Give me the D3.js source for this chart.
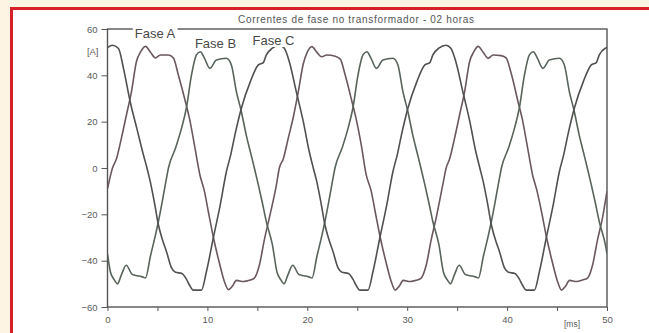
<!DOCTYPE html>
<html>
<head>
<meta charset="utf-8">
<script src="https://cdn.jsdelivr.net/npm/d3@7"></script>
<style>
  html, body { margin: 0; padding: 0; background: #fdf4e4; }
  svg { display: block; font-family: "Liberation Sans", Arial, sans-serif; }
</style>
</head>
<body>
<div id="chart"></div>
<script>
const title = "Correntes de fase no transformador - 02 horas";
const yTicks = [-60, -40, -20, 0, 20, 40, 60];
const xTicks = [0, 10, 20, 30, 40, 50];
const xMinorTicks = [5, 15, 25, 35, 45];
const seriesNames = ["Fase A", "Fase B", "Fase C"];

// [time ms, current A]
const faseA = [
  [0, -9], [0.5, 0], [0.9, 4], [1.4, 13], [1.9, 23], [2.4, 33], [2.9, 46], [3.3, 50], [3.8, 52.5], [4.3, 50],
  [4.8, 47.5], [5.3, 48.8], [6.1, 48.8], [6.6, 47.5], [7.1, 40], [7.8, 28.6], [8.2, 21.5], [8.7, 10], [9.25, -3],
  [9.7, -10], [10.1, -19], [10.6, -30], [11.2, -41], [11.7, -49], [12.1, -52.5], [12.5, -51], [12.9, -48.5],
  [13.6, -49], [14.2, -48.5], [14.7, -47.5], [15.2, -42], [15.7, -31], [16.2, -21.5], [16.9, -7.5],
  [17.2, 0], [17.6, 4], [18.1, 13], [18.6, 22], [19.1, 33], [19.6, 45], [20.0, 50], [20.45, 52.4], [20.95, 50],
  [21.45, 48], [21.95, 48.8], [22.8, 48.2], [23.3, 47], [23.8, 40], [24.45, 29], [24.9, 21], [25.4, 10], [25.9, -3],
  [26.4, -10], [26.8, -19], [27.3, -30], [27.9, -41], [28.4, -49], [28.8, -52.7], [29.2, -51], [29.6, -48.5],
  [30.3, -49], [30.9, -48.5], [31.4, -47.5], [31.9, -42], [32.4, -31], [32.9, -21.5], [33.55, -7.5],
  [33.9, 0], [34.25, 4], [34.75, 13], [35.25, 23], [35.75, 33], [36.25, 46], [36.65, 50], [37.1, 52.5], [37.6, 50],
  [38.1, 47.4], [38.6, 48.8], [39.4, 48.5], [39.9, 47.5], [40.4, 41], [41.1, 28.5], [41.5, 21.5], [42.0, 10], [42.55, -3],
  [43.0, -10], [43.45, -19], [43.95, -30], [44.55, -41], [45.05, -49], [45.45, -52.7], [45.85, -51], [46.25, -48.5],
  [46.95, -49], [47.55, -48.3], [48.05, -47.5], [48.55, -42], [49.05, -31], [49.55, -21.5], [50, -10]
];

const faseB = [
  [0, -37], [0.3, -45], [0.7, -48.4], [1.0, -50], [1.4, -46], [1.87, -42], [2.5, -46], [3.0, -46.5], [3.5, -47],
  [3.8, -47.5], [4.3, -38], [4.8, -29], [5.1, -23], [5.5, -14], [5.9, -4.5], [6.1, 0],
  [6.8, 8.5], [7.4, 17], [7.9, 26], [8.4, 40], [8.9, 48.8], [9.3, 50.2], [9.7, 47.4], [10.25, 43], [10.9, 46.6],
  [11.9, 47.4], [12.4, 44.5], [12.9, 33], [13.4, 24.3], [13.9, 14], [14.3, 7], [14.7, 0], [15.1, -7.3], [15.5, -15],
  [15.9, -23.2], [16.5, -33], [16.97, -45], [17.37, -48.4], [17.67, -50], [18.07, -46], [18.54, -42], [19.17, -46],
  [19.67, -46.5], [20.17, -47], [20.47, -47.5], [20.97, -38], [21.47, -29], [21.77, -23], [22.17, -14], [22.57, -4.5],
  [22.77, 0], [23.47, 8.5], [24.07, 17], [24.57, 26], [25.07, 40], [25.57, 48.8], [25.97, 50.2], [26.37, 47.4],
  [26.92, 43], [27.57, 46.6], [28.57, 47.4], [29.07, 44.5], [29.57, 33], [30.07, 24.3], [30.57, 14], [30.97, 7],
  [31.37, 0], [31.77, -7.3], [32.17, -15], [32.57, -23.2], [33.17, -33], [33.63, -45], [34.03, -48.4], [34.33, -50],
  [34.73, -46], [35.2, -42], [35.83, -46], [36.33, -46.5], [36.83, -47], [37.13, -47.5], [37.63, -38], [38.13, -29],
  [38.43, -23], [38.83, -14], [39.23, -4.5], [39.43, 0], [40.13, 8.5], [40.73, 17], [41.23, 26], [41.73, 40],
  [42.23, 48.8], [42.63, 50.2], [43.03, 47.4], [43.58, 43], [44.23, 46.6], [45.23, 47.4], [45.73, 44.5], [46.23, 33],
  [46.73, 24.3], [47.23, 14], [47.63, 7], [48.03, 0], [48.43, -7.3], [48.83, -15], [49.23, -23.2], [49.83, -33], [50, -37]
];

const faseC = [
  [0, 52], [0.5, 53], [1.1, 51.6], [1.6, 43], [2.27, 28.6], [2.94, 17], [3.6, 5.6], [3.95, 0], [4.28, -5.9], [4.7, -15],
  [5.1, -24.6], [5.5, -31], [5.9, -36], [6.4, -43], [6.8, -45], [7.45, -45.5], [7.9, -48], [8.2, -50.5], [8.6, -52.7],
  [9.4, -52.7], [9.9, -44.8], [10.6, -30], [11.25, -16.7], [11.9, -1.6], [12.35, 6], [12.75, 14.2], [13.4, 25.8],
  [14.3, 37.3], [15.1, 44.5], [15.6, 45.5], [15.9, 48.8], [16.5, 51.7], [17.2, 53], [17.7, 51.7], [18.2, 45.9],
  [18.9, 32.9], [19.6, 20], [20.2, 7], [20.6, 0], [20.95, -5.9], [21.37, -15], [21.77, -24.6], [22.17, -31],
  [22.57, -36], [23.07, -43], [23.47, -45], [24.12, -45.5], [24.57, -48], [24.87, -50.5], [25.27, -52.7],
  [26.07, -52.7], [26.57, -44.8], [27.27, -30], [27.92, -16.7], [28.57, -1.6], [29.02, 6], [29.42, 14.2],
  [30.07, 25.8], [30.97, 37.3], [31.77, 44.5], [32.27, 45.5], [32.57, 48.8], [33.17, 51.7], [33.87, 53],
  [34.37, 51.7], [34.87, 45.9], [35.57, 32.9], [36.27, 20], [36.87, 7], [37.27, 0], [37.61, -5.9], [38.03, -15],
  [38.43, -24.6], [38.83, -31], [39.23, -36], [39.73, -43], [40.13, -45], [40.78, -45.5], [41.23, -48],
  [41.53, -50.5], [41.93, -52.7], [42.73, -52.7], [43.23, -44.8], [43.93, -30], [44.58, -16.7], [45.23, -1.6],
  [45.68, 6], [46.08, 14.2], [46.73, 25.8], [47.63, 37.3], [48.43, 44.5], [48.93, 45.5], [49.23, 48.8],
  [49.83, 51.7], [50, 52]
];

const width = 649, height = 333;
const plot = { left: 107.5, right: 607, top: 29, bottom: 307 };

const svg = d3.select("#chart").append("svg")
  .attr("width", width)
  .attr("height", height);

// page frame: cream background, red border, white panel
svg.append("rect").attr("width", width).attr("height", height).attr("fill", "#fdf4e4");
svg.append("rect")
  .attr("x", 11.5).attr("y", 8.5)
  .attr("width", width + 20).attr("height", height + 20)
  .attr("fill", "#fff")
  .attr("stroke", "#d42026")
  .attr("stroke-width", 3);

const x = d3.scaleLinear().domain([0, 50]).range([plot.left, plot.right]);
const y = d3.scaleLinear().domain([-60, 60]).range([plot.bottom, plot.top]);

const axisColor = "#555";

// y axis
const yAxis = svg.append("g")
  .attr("transform", `translate(${plot.left},0)`)
  .call(d3.axisLeft(y).tickValues(yTicks).tickSize(6).tickPadding(4));
yAxis.select(".domain").remove();
yAxis.selectAll("line").attr("stroke", axisColor);
yAxis.selectAll("text").attr("fill", "#5a5a5a").attr("font-size", 9.5);

svg.append("text")
  .attr("x", plot.left - 9).attr("y", y(50) + 3)
  .attr("text-anchor", "end")
  .attr("font-size", 9.5).attr("fill", "#5a5a5a")
  .text("[A]");

// x axis
const xAxis = svg.append("g")
  .attr("transform", `translate(0,${plot.bottom})`)
  .call(d3.axisBottom(x).tickValues(xTicks.concat(xMinorTicks))
    .tickSize(4).tickPadding(5)
    .tickFormat(d => xTicks.includes(d) ? d : ""));
xAxis.select(".domain").remove();
xAxis.selectAll("line").attr("stroke", axisColor);
xAxis.selectAll("text").attr("fill", "#5a5a5a").attr("font-size", 9.5);

svg.append("text")
  .attr("x", 572).attr("y", 327)
  .attr("text-anchor", "middle")
  .attr("font-size", 8.5).attr("fill", "#5a5a5a")
  .text("[ms]");

// plot frame
svg.append("rect")
  .attr("x", plot.left).attr("y", plot.top)
  .attr("width", plot.right - plot.left).attr("height", plot.bottom - plot.top)
  .attr("fill", "none")
  .attr("stroke", axisColor)
  .attr("stroke-width", 1.4);

// title
svg.append("text")
  .attr("x", 356).attr("y", 23)
  .attr("text-anchor", "middle")
  .attr("font-size", 10)
  .attr("textLength", 236)
  .attr("lengthAdjust", "spacing")
  .attr("fill", "#555")
  .text(title);

// curves
svg.append("clipPath").attr("id", "clip")
  .append("rect")
  .attr("x", plot.left).attr("y", plot.top)
  .attr("width", plot.right - plot.left).attr("height", plot.bottom - plot.top);

const line = d3.line()
  .x(d => x(d[0]))
  .y(d => y(d[1]))
  .curve(d3.curveMonotoneX);

const series = [
  { name: seriesNames[0], data: faseA, color: "#6a575f" },
  { name: seriesNames[1], data: faseB, color: "#57645a" },
  { name: seriesNames[2], data: faseC, color: "#505050" }
];

svg.append("g").attr("clip-path", "url(#clip)")
  .selectAll("path")
  .data(series)
  .join("path")
  .attr("d", d => line(d.data))
  .attr("fill", "none")
  .attr("stroke", d => d.color)
  .attr("stroke-width", 1.6)
  .attr("stroke-linejoin", "round");

// phase labels with white boxes (they cut the top frame line)
const labelPos = [
  { x: 155, y: 38 },
  { x: 215.5, y: 48 },
  { x: 273.5, y: 45 }
];
const labels = svg.append("g").selectAll("g")
  .data(seriesNames)
  .join("g");
labels.append("text")
  .attr("x", (d, i) => labelPos[i].x)
  .attr("y", (d, i) => labelPos[i].y)
  .attr("text-anchor", "middle")
  .attr("font-size", 13)
  .attr("fill", "#484848")
  .text(d => d)
  .each(function () {
    const b = this.getBBox();
    d3.select(this.parentNode).insert("rect", "text")
      .attr("x", b.x - 2).attr("y", b.y + 1)
      .attr("width", b.width + 4).attr("height", b.height - 2)
      .attr("fill", "#fff");
  });
</script>
</body>
</html>
